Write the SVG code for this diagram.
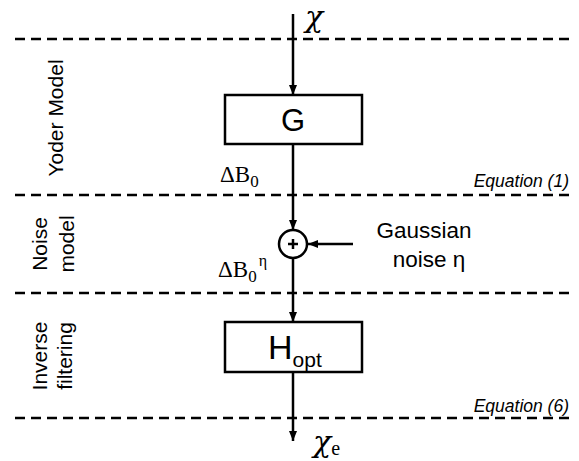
<svg xmlns="http://www.w3.org/2000/svg" width="579" height="461" viewBox="0 0 579 461">
<defs>
<style>
.dash{stroke:#000;stroke-width:2.5;stroke-dasharray:10 6;fill:none}
.ln{stroke:#000;stroke-width:2.5;fill:none}
.box{stroke:#000;stroke-width:2.5;fill:#fff}
.sans{font-family:"Liberation Sans",Arial,sans-serif;fill:#000}
.serif{font-family:"Liberation Serif","Times New Roman",serif;fill:#000}
.chi{font-family:"DejaVu Serif","Liberation Serif",serif;font-style:italic;fill:#000}
.side{font-family:"Liberation Sans",Arial,sans-serif;font-size:21px;text-anchor:middle;fill:#000}
.eq{font-family:"Liberation Sans",Arial,sans-serif;font-size:17.5px;font-style:italic;text-anchor:end;fill:#000}
</style>
<marker id="ah" markerUnits="userSpaceOnUse" markerWidth="10" markerHeight="10" viewBox="0 0 10 10" refX="10" refY="5" orient="auto">
<path d="M0,1 L10,5 L0,9 Z" fill="#000"/>
</marker>
</defs>
<rect width="579" height="461" fill="#fff"/>
<g id="bands">
<line class="dash" x1="15" y1="39" x2="570" y2="39"/>
<line class="dash" x1="15" y1="195" x2="570" y2="195"/>
<line class="dash" x1="15" y1="293" x2="570" y2="293"/>
<line class="dash" x1="15" y1="418" x2="570" y2="418"/>
<text class="side" transform="translate(63,118) rotate(-90)">Yoder Model</text>
<text class="side" transform="translate(47,244) rotate(-90)">Noise</text>
<text class="side" transform="translate(74,244) rotate(-90)">model</text>
<text class="side" transform="translate(47,356) rotate(-90)">Inverse</text>
<text class="side" transform="translate(72,356) rotate(-90)">filtering</text>
<text class="eq" x="569" y="187">Equation (1)</text>
<text class="eq" x="569" y="412">Equation (6)</text>
</g>
<g id="connectors">
<line class="ln" x1="293" y1="14" x2="293" y2="95" marker-end="url(#ah)"/>
<line class="ln" x1="293" y1="144" x2="293" y2="230" marker-end="url(#ah)"/>
<line class="ln" x1="353" y1="244" x2="308" y2="244" marker-end="url(#ah)"/>
<line class="ln" x1="293" y1="259" x2="293" y2="322" marker-end="url(#ah)"/>
<line class="ln" x1="293" y1="372" x2="293" y2="441" marker-end="url(#ah)"/>
</g>
<g id="input">
<text class="chi" x="305" y="27" font-size="30">χ</text>
</g>
<g id="G">
<rect class="box" x="225" y="95" width="137" height="49"/>
<text class="sans" x="293" y="131" font-size="31" text-anchor="middle">G</text>
</g>
<g id="dB0">
<text class="serif" x="220" y="182" font-size="23">ΔB<tspan font-size="17" dy="5">0</tspan></text>
</g>
<g id="sum">
<circle class="ln" cx="293" cy="244" r="14"/>
<line class="ln" x1="288" y1="244" x2="298" y2="244" stroke-width="1.8"/>
<line class="ln" x1="293" y1="239" x2="293" y2="249" stroke-width="1.8"/>
</g>
<g id="noise">
<text class="sans" x="424" y="238" font-size="22.5" text-anchor="middle">Gaussian</text>
<text class="sans" x="429" y="267" font-size="22.5" text-anchor="middle">noise η</text>
</g>
<g id="dB0eta">
<text class="serif" x="218" y="277" font-size="23">ΔB<tspan font-size="17" dy="5">0</tspan><tspan font-size="16" dx="2" dy="-16">η</tspan></text>
</g>
<g id="Hopt">
<rect class="box" x="225" y="322" width="137" height="50"/>
<text class="sans" x="268" y="359" font-size="34">H<tspan font-size="21" dy="8">opt</tspan></text>
</g>
<g id="output">
<text class="chi" x="313" y="452" font-size="30">χ<tspan class="serif" font-style="normal" font-size="20" dy="3">e</tspan></text>
</g>
</svg>
